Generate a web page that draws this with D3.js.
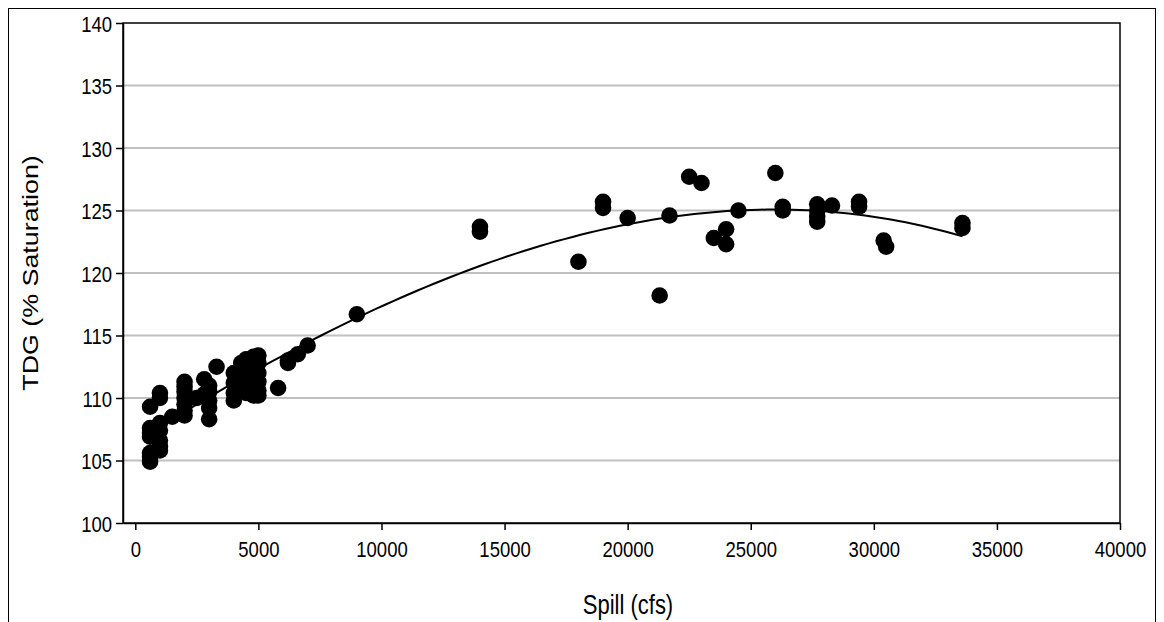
<!DOCTYPE html>
<html>
<head>
<meta charset="utf-8">
<script src="https://cdn.jsdelivr.net/npm/d3@7"></script>
<style>
  body { margin: 0; background: #fff; }
  svg { display: block; }
  text { font-family: "Liberation Sans", Arial, sans-serif; fill: #000; }
</style>
</head>
<body>
<svg id="chart"></svg>
<script>
// spill (cfs) and TDG (% saturation), one entry per dot
const spill = [
  600, 600, 600, 600, 600, 600, 600,
  1000, 1000, 1000, 1000, 1000, 1000, 1000,
  1500,
  2000, 2000, 2000, 2000, 2000, 2000, 2000,
  2500,
  2800, 2800,
  3000, 3000, 3000, 3000, 3000,
  3300,
  4000, 4000, 4000, 4000,
  4300, 4300, 4300,
  4500, 4500, 4500, 4500, 4500,
  4800, 4800, 4800, 4800, 4800,
  5000, 5000, 5000, 5000, 5000, 5000,
  5800,
  6200, 6200,
  6600,
  7000,
  9000,
  14000, 14000,
  18000,
  19000, 19000,
  20000,
  21300,
  21700,
  22500,
  23000,
  23500,
  24000, 24000,
  24500,
  26000,
  26300, 26300,
  27700, 27700, 27700, 27700,
  28300,
  29400, 29400,
  30400,
  30500,
  33600, 33600
];
const tdg = [
  109.3, 107.6, 107.2, 106.9, 105.6, 105.3, 104.9,
  110.4, 110.0, 108.0, 107.4, 106.6, 106.1, 105.8,
  108.5,
  111.3, 110.9, 110.5, 110.0, 109.5, 109.0, 108.6,
  110.0,
  111.5, 110.3,
  111.0, 110.5, 109.8, 109.2, 108.3,
  112.5,
  112.0, 111.2, 110.4, 109.8,
  112.8, 111.5, 110.8,
  113.1, 112.3, 111.6, 110.9, 110.4,
  113.3, 112.5, 111.7, 111.0, 110.2,
  113.4, 112.8, 112.0, 111.3, 110.6, 110.2,
  110.8,
  113.0, 112.8,
  113.5,
  114.2,
  116.7,
  123.3, 123.7,
  120.9,
  125.7, 125.2,
  124.4,
  118.2,
  124.6,
  127.7,
  127.2,
  122.8,
  123.5, 122.3,
  125.0,
  128.0,
  125.3, 125.0,
  125.5, 125.0, 124.5, 124.1,
  125.4,
  125.7, 125.3,
  122.6,
  122.1,
  124.0, 123.6
];

const xTicks = [0, 5000, 10000, 15000, 20000, 25000, 30000, 35000, 40000];
const yTicks = [100, 105, 110, 115, 120, 125, 130, 135, 140];

const xTitle = 'Spill (cfs)';
const yTitle = 'TDG (% Saturation)';
const trendOrder = 3;

const width = 1164;
const height = 622;
const plot = { left: 123, top: 23, right: 1120, bottom: 523 };
// the source picture has its text a little stretched upright
const stretch = 1.22;

const svg = d3.select('#chart')
  .attr('width', width)
  .attr('height', height);

// outer chart frame (runs off the bottom of the picture)
svg.append('rect')
  .attr('x', 8.5)
  .attr('y', 8.5)
  .attr('width', 1147)
  .attr('height', 640)
  .attr('fill', '#fff')
  .attr('stroke', '#000')
  .attr('stroke-width', 1);

const x = d3.scaleLinear().domain([-500, 40000]).range([plot.left, plot.right]);
const y = d3.scaleLinear().domain([100, 140]).range([plot.bottom, plot.top]);

// horizontal gridlines
svg.append('g').attr('class', 'grid')
  .selectAll('line')
  .data(yTicks.slice(1, -1))
  .enter().append('line')
  .attr('x1', plot.left)
  .attr('x2', plot.right)
  .attr('y1', function(d) { return y(d); })
  .attr('y2', function(d) { return y(d); })
  .attr('stroke', '#c0c0c0')
  .attr('stroke-width', 2);

// plot area border
svg.append('rect')
  .attr('x', plot.left)
  .attr('y', plot.top)
  .attr('width', plot.right - plot.left)
  .attr('height', plot.bottom - plot.top)
  .attr('fill', 'none')
  .attr('stroke', '#000')
  .attr('stroke-width', 1.5);

const xAxis = svg.append('g')
  .attr('transform', 'translate(0,' + plot.bottom + ')')
  .call(d3.axisBottom(x).tickValues(xTicks).tickFormat(d3.format('d')).tickSize(7).tickSizeOuter(0));

const yAxis = svg.append('g')
  .attr('transform', 'translate(' + plot.left + ',0)')
  .call(d3.axisLeft(y).tickValues(yTicks).tickFormat(d3.format('d')).tickSize(7).tickSizeOuter(0));

[xAxis, yAxis].forEach(function(g) {
  g.attr('font-size', null).attr('font-family', null);
  g.select('.domain').attr('stroke', '#000').attr('stroke-width', 1.5);
  g.selectAll('.tick line').attr('stroke', '#000').attr('stroke-width', 1.5);
  g.selectAll('.tick text')
    .style('font-size', '18.5px')
    .attr('fill', '#000')
    .attr('x', 0)
    .attr('y', 0);
});

xAxis.selectAll('.tick text')
  .attr('dy', 0)
  .attr('transform', 'translate(0,34) scale(1,' + stretch + ')');

yAxis.selectAll('.tick text')
  .attr('dy', '0.36em')
  .attr('transform', 'translate(-11,0) scale(1,' + stretch + ')');

svg.append('text')
  .attr('transform', 'translate(628,614) scale(1,' + stretch + ')')
  .attr('text-anchor', 'middle')
  .style('font-size', '22px')
  .text(xTitle);

svg.append('text')
  .attr('transform', 'translate(38,' + ((plot.top + plot.bottom) / 2) + ') scale(1,' + stretch + ') rotate(-90)')
  .attr('text-anchor', 'middle')
  .style('font-size', '22px')
  .text(yTitle);

// least squares polynomial trendline, x in thousands to keep it well conditioned
function polyfit(xs, ys, order) {
  const n = order + 1;
  const A = [];
  for (let i = 0; i < n; i++) {
    A.push(new Array(n + 1).fill(0));
  }
  xs.forEach(function(xv, k) {
    for (let i = 0; i < n; i++) {
      for (let j = 0; j < n; j++) A[i][j] += Math.pow(xv, i + j);
      A[i][n] += ys[k] * Math.pow(xv, i);
    }
  });
  for (let c = 0; c < n; c++) {
    let p = c;
    for (let r = c + 1; r < n; r++) if (Math.abs(A[r][c]) > Math.abs(A[p][c])) p = r;
    [A[c], A[p]] = [A[p], A[c]];
    for (let r = 0; r < n; r++) {
      if (r === c) continue;
      const f = A[r][c] / A[c][c];
      for (let k = c; k <= n; k++) A[r][k] -= f * A[c][k];
    }
  }
  return A.map(function(row, i) { return row[n] / row[i]; });
}

const coef = polyfit(spill.map(function(d) { return d / 1000; }), tdg, trendOrder);
const fitAt = function(v) {
  const t = v / 1000;
  return coef.reduce(function(s, c, i) { return s + c * Math.pow(t, i); }, 0);
};
const xMin = d3.min(spill);
const xMax = d3.max(spill);
const trendPoints = d3.range(0, 101).map(function(i) {
  const v = xMin + (xMax - xMin) * i / 100;
  return [v, fitAt(v)];
});

svg.append('path')
  .datum(trendPoints)
  .attr('fill', 'none')
  .attr('stroke', '#000')
  .attr('stroke-width', 2)
  .attr('d', d3.line()
    .x(function(d) { return x(d[0]); })
    .y(function(d) { return y(d[1]); }));

svg.append('g').attr('class', 'dots')
  .selectAll('circle')
  .data(spill.map(function(d, i) { return [d, tdg[i]]; }))
  .enter().append('circle')
  .attr('cx', function(d) { return x(d[0]); })
  .attr('cy', function(d) { return y(d[1]); })
  .attr('r', 8.3)
  .attr('fill', '#000');
</script>
</body>
</html>
